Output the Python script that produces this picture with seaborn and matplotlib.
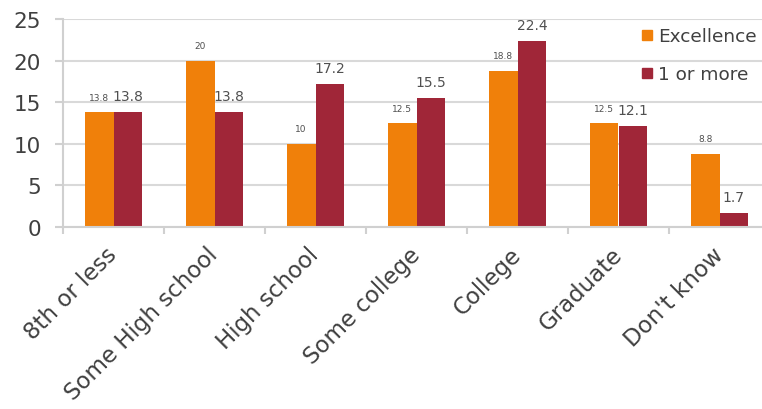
import matplotlib
matplotlib.use("Agg")
import matplotlib.pyplot as plt
import seaborn as sns
import pandas as pd
from matplotlib.lines import Line2D

categories = ["8th or less", "Some High school", "High school", "Some college",
              "College", "Graduate", "Don't know"]
excellence = [13.8, 20, 10, 12.5, 18.8, 12.5, 8.8]
one_or_more = [13.8, 13.8, 17.2, 15.5, 22.4, 12.1, 1.7]
series_names = ["Excellence", "1 or more"]
colors = ["#F0800A", "#A02638"]
yticks = [0, 5, 10, 15, 20, 25]

df = pd.DataFrame({
    "category": categories * 2,
    "value": excellence + one_or_more,
    "series": [series_names[0]] * len(categories) + [series_names[1]] * len(categories),
})

sns.set_theme(style="white")
plt.rcParams["font.family"] = ["DejaVu Sans"]

fig = plt.figure(figsize=(7.62, 4.10), dpi=100)
ax = fig.add_axes([63 / 762, 1 - 228 / 410, (770 - 63) / 762, (228 - 20) / 410])

sns.barplot(data=df, x="category", y="value", hue="series", palette=colors,
            width=0.57, gap=0, ax=ax, legend=False, saturation=1, errorbar=None,
            linewidth=0, edgecolor="none")

ax.set_ylim(0, 25)
ax.set_xlim(-0.5, 6.5)
ax.set_yticks(yticks)
ax.set_xlabel("")
ax.set_ylabel("")

ax.grid(axis="y", color="#d9d9d9", linewidth=1.5)
ax.set_axisbelow(True)
for s in ["top", "right"]:
    ax.spines[s].set_visible(False)
for s in ["left", "bottom"]:
    ax.spines[s].set_color("#d0d0d0")
    ax.spines[s].set_linewidth(1.5)

ax.tick_params(axis="y", length=6, width=1.5, color="#d0d0d0", pad=10,
               labelsize=15.5, labelcolor="#404040", left=True)
ax.set_xticks([i - 0.5 for i in range(len(categories) + 1)], minor=True)
ax.tick_params(axis="x", which="minor", length=5, width=1.5, color="#d0d0d0", bottom=True)
ax.tick_params(axis="x", which="major", length=0, pad=17, labelsize=16.5, labelcolor="#404040")
ax.set_xticks(range(len(categories)))
ax.set_xticklabels(categories, rotation=45, ha="right", va="center", rotation_mode="anchor")

containers = ax.containers
ax.bar_label(containers[0], fmt="%g", fontsize=6.5, color="#505050", padding=7.5)
ax.bar_label(containers[1], fmt="%g", fontsize=10, color="#505050", padding=6.5)

handles = [Line2D([], [], marker="s", linestyle="", color=c, markersize=7) for c in colors]
ax.legend(handles, series_names, loc="upper left", bbox_to_anchor=(641 / 762, 1 - 28 / 410),
          bbox_transform=fig.transFigure, frameon=False, fontsize=13.3, labelcolor="#404040",
          handlelength=0.6, handletextpad=0.3, labelspacing=1.1, borderaxespad=0,
          borderpad=0)

fig.savefig("out.png", dpi=100)
